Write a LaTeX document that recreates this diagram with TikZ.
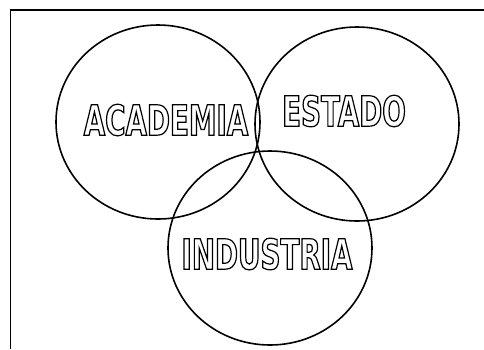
\documentclass[tikz,border=0pt]{standalone}
\usepackage{fontspec}
\usetikzlibrary{shapes.geometric, positioning}
\newfontfamily\signfont[FakeStretch=0.66]{DejaVu Sans Bold}
\newcommand{\hollow}[1]{\special{pdf:literal direct 1 Tr 1.2 w}#1\special{pdf:literal direct 0 Tr}}
\tikzset {
    x=1pt, y=-1pt,
    ring/.style={ellipse, draw, line width=1.6pt, minimum width=204pt, minimum height=194pt, inner sep=0pt},
    sign/.style={font=\signfont\fontsize{42}{42}\selectfont, inner sep=0pt},
    frame/.style={line width=1.7pt}
}

\begin{document}
\begin{tikzpicture}
    \useasboundingbox (0,0) rectangle (484,349);
    \coordinate (fbl) at (10.5,349);
    \coordinate (ftr) at (484,10);
    \draw[frame] (fbl) |- (ftr);

    \node[ring] (academia) at (158,122) {};
    \node[ring] (estado) at (357,124) {};
    \node[ring] (industria) at (270,248) {};

    \node[sign] (tacademia) at (166,120) {\hollow{ACADEMIA}};
    \node[sign] (testado) at (344,111) {\hollow{ESTADO}};
    \node[sign] (tindustria) at (267,254) {\hollow{INDUSTRIA}};
\end{tikzpicture}
\end{document}
